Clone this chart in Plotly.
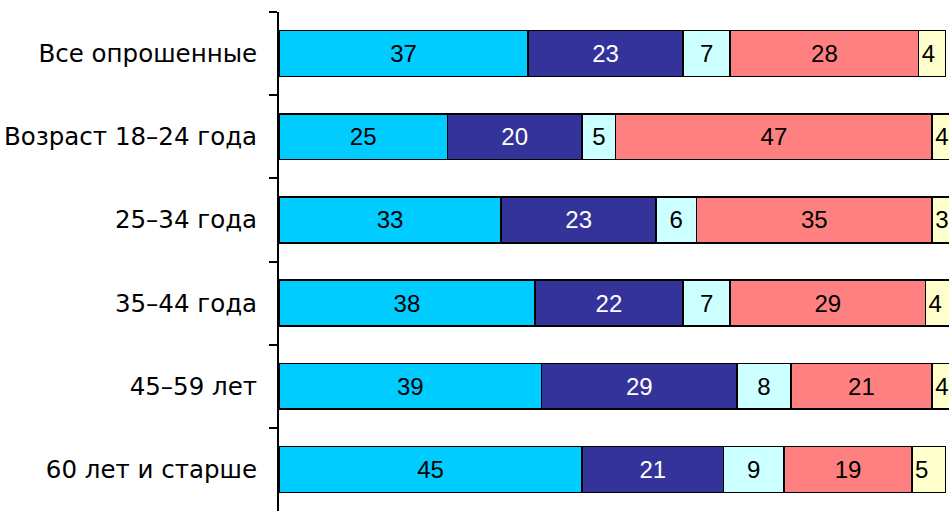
import plotly.graph_objects as go

categories = ["Все опрошенные", "Возраст 18–24 года", "25–34 года", "35–44 года", "45–59 лет", "60 лет и старше"]
s1 = [37, 25, 33, 38, 39, 45]
s2 = [23, 20, 23, 22, 29, 21]
s3 = [7, 5, 6, 7, 8, 9]
s4 = [28, 47, 35, 29, 21, 19]
s5 = [4, 4, 3, 4, 4, 5]

series = [s1, s2, s3, s4, s5]
colors = ["#00CCFF", "#333399", "#CCFFFF", "#FF8080", "#FFFFCC"]
text_colors = ["black", "white", "black", "black", "black"]
anchors = ["middle", "middle", "middle", "middle", "start"]

fig = go.Figure()
for vals, col, tcol, anc in zip(series, colors, text_colors, anchors):
    fig.add_trace(go.Bar(
        y=categories, x=vals, orientation="h",
        marker=dict(color=col, line=dict(color="black", width=1.5)),
        text=[str(v) for v in vals], textposition="inside",
        insidetextanchor=anc, textangle=0, constraintext="none",
        insidetextfont=dict(family="Liberation Sans, Arial", size=24, color=tcol),
        hoverinfo="skip",
    ))

fig.update_layout(
    barmode="stack", bargap=0.45, showlegend=False,
    width=949, height=511,
    margin=dict(l=279, r=0, t=12, b=0, autoexpand=False),
    paper_bgcolor="white", plot_bgcolor="white",
)
fig.update_xaxes(range=[0, 99.5], visible=False, showgrid=False, zeroline=False)
fig.update_yaxes(
    autorange="reversed", automargin=False,
    showline=True, linecolor="black", linewidth=2,
    ticks="outside", tickson="boundaries", ticklen=8, tickcolor="black", tickwidth=2,
    ticklabelstandoff=15, showgrid=False,
    tickfont=dict(family="DejaVu Sans", size=24.5, color="black"),
)

fig.write_html(
    "out.html",
    config={"displayModeBar": False},
    post_script="document.body.style.margin='0';document.body.style.overflow='hidden';",
)
